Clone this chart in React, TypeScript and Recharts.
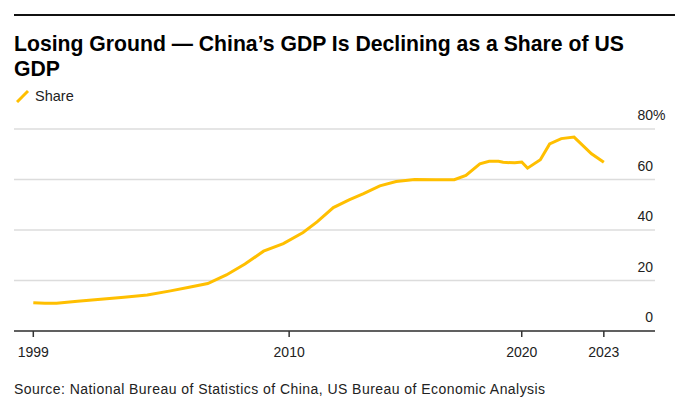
import React from "react";
import { CartesianGrid, Line, LineChart, XAxis, YAxis } from "recharts";

// decimal years
const years = [
	1999.0, 1999.5, 2000.0, 2000.9, 2001.9, 2002.9, 2003.9, 2004.9, 2005.7,
	2006.5, 2007.3, 2008.1, 2008.9, 2009.75, 2010.6, 2011.2, 2011.9, 2012.6,
	2013.2, 2013.9, 2014.6, 2015.4, 2016.3, 2017.1, 2017.6, 2018.2, 2018.6,
	2019.0, 2019.2, 2019.7, 2020.0, 2020.25, 2020.8, 2021.2, 2021.7, 2022.25,
	2023.0, 2023.53,
];
const share = [
	11.2, 11.0, 11.0, 11.8, 12.6, 13.4, 14.3, 15.9, 17.3, 18.8, 22.2, 26.5, 31.6,
	34.6, 39.0, 43.2, 48.9, 52.0, 54.4, 57.5, 59.2, 60.0, 59.9, 59.9, 61.6, 66.2,
	67.2, 67.2, 66.8, 66.6, 66.9, 64.5, 67.8, 74.1, 76.2, 76.8, 70.2, 66.8,
];
const xTicks = [1999, 2010, 2020, 2023.53];
const yTicks = [0, 20, 40, 60, 80];

const data = years.map((t, i) => ({ t, share: share[i] }));

const FONT = '"Liberation Sans", Arial, sans-serif';
const YELLOW = "#ffbf00";

function renderYTick(props: any) {
	const { x, y, payload } = props;
	const v = payload.value;
	return (
		<g key={`yt-${v}`}>
			<text x={x - 2} y={y - 9} textAnchor="end" fontSize={14} fill="#222" fontFamily={FONT}>
				{v}
			</text>
			{v === 80 && (
				<text x={x - 2} y={y - 9} textAnchor="start" fontSize={14} fill="#222" fontFamily={FONT}>
					%
				</text>
			)}
		</g>
	);
}

export default function App() {
	return (
		<div
			style={{
				position: "absolute",
				left: 0,
				top: 0,
				width: 689,
				height: 405,
				background: "#fff",
				fontFamily: FONT,
				color: "#000",
				overflow: "hidden",
			}}
		>
			<div style={{ position: "absolute", left: 14, top: 14, width: 661, height: 2, background: "#111" }} />
			<div
				style={{
					position: "absolute",
					left: 14,
					top: 31,
					fontSize: 21.2,
					fontWeight: 700,
					lineHeight: "25px",
					whiteSpace: "nowrap",
				}}
			>
				Losing Ground — China’s GDP Is Declining as a Share of US
				<br />
				GDP
			</div>
			<div style={{ position: "absolute", left: 16, top: 88, display: "flex", alignItems: "center" }}>
				<svg width={14} height={14}>
					<line x1={1} y1={13} x2={12} y2={2} stroke={YELLOW} strokeWidth={3} />
				</svg>
				<span style={{ marginLeft: 5, fontSize: 14.5, color: "#222" }}>Share</span>
			</div>
			<div style={{ position: "absolute", left: 0, top: 0 }}>
				<LineChart
					width={689}
					height={405}
					data={data}
					margin={{ top: 129, right: 33, left: 14, bottom: 44 }}
				>
					<CartesianGrid vertical={false} stroke="#dcdcdc" strokeWidth={1.5} />
					<XAxis
						dataKey="t"
						type="number"
						domain={[1998.17, 2025.73]}
						ticks={xTicks}
						tickFormatter={(v: number) => String(Math.floor(v))}
						height={30}
						tickSize={6}
						tickMargin={10}
						stroke="#333"
						strokeWidth={1.5}
						tick={{ fill: "#222", fontSize: 14, fontFamily: FONT }}
						interval={0}
					/>
					<YAxis
						orientation="right"
						domain={[0, 80]}
						ticks={yTicks}
						width={1}
						tickSize={0}
						tickMargin={0}
						axisLine={false}
						tickLine={false}
						tick={renderYTick}
						interval={0}
					/>
					<Line
						type="linear"
						dataKey="share"
						stroke={YELLOW}
						strokeWidth={3}
						dot={false}
						isAnimationActive={false}
					/>
				</LineChart>
			</div>
			<div
				style={{
					position: "absolute",
					left: 14,
					top: 381,
					fontSize: 14,
					letterSpacing: 0.45,
					color: "#222",
					whiteSpace: "nowrap",
				}}
			>
				Source: National Bureau of Statistics of China, US Bureau of Economic Analysis
			</div>
		</div>
	);
}
